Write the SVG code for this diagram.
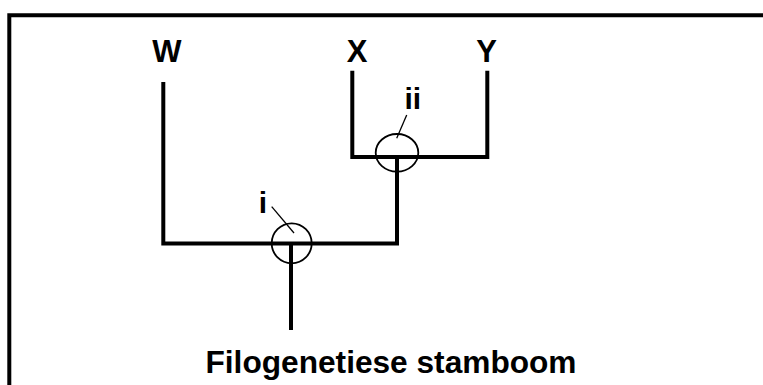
<svg xmlns="http://www.w3.org/2000/svg" width="763" height="385" viewBox="0 0 763 385">
<style>
.lbl{font-family:"Liberation Sans",Arial,sans-serif;font-weight:bold;fill:#000;text-anchor:middle}
.edge{fill:none;stroke:#000;stroke-width:4;stroke-linejoin:miter;stroke-linecap:butt}
.ring{fill:none;stroke:#000;stroke-width:1.8}
.lead{stroke:#000;stroke-width:1.3}
</style>
<rect width="763" height="385" fill="#fff"/>
<path d="M9.3,385 V15.3 H763" fill="none" stroke="#000" stroke-width="4"/>
<g id="connectors">
<path class="edge" d="M163.3,82 V243.5 H291"/>
<path class="edge" d="M291,243.5 H397 V157"/>
<path class="edge" d="M352.3,70.7 V157 H397"/>
<path class="edge" d="M487.3,70.7 V157 H397"/>
<path class="edge" d="M291,243.5 V330"/>
</g>
<g id="W"><text class="lbl" x="167" y="61.7" font-size="31">W</text></g>
<g id="X"><text class="lbl" x="357" y="61.7" font-size="31">X</text></g>
<g id="Y"><text class="lbl" x="486.7" y="61.7" font-size="31">Y</text></g>
<g id="node-ii">
<ellipse class="ring" cx="397" cy="152.8" rx="21.3" ry="18.8"/>
<line class="lead" x1="406.7" y1="115" x2="396.7" y2="138.3"/>
<text class="lbl" x="412.8" y="109" font-size="30">ii</text>
</g>
<g id="node-i">
<circle class="ring" cx="291.7" cy="243.3" r="20"/>
<line class="lead" x1="271.7" y1="206.7" x2="294" y2="233"/>
<text class="lbl" x="263" y="213.3" font-size="30">i</text>
</g>
<g id="title"><text class="lbl" x="391" y="372.7" font-size="32" textLength="371" lengthAdjust="spacingAndGlyphs">Filogenetiese stamboom</text></g>
</svg>
